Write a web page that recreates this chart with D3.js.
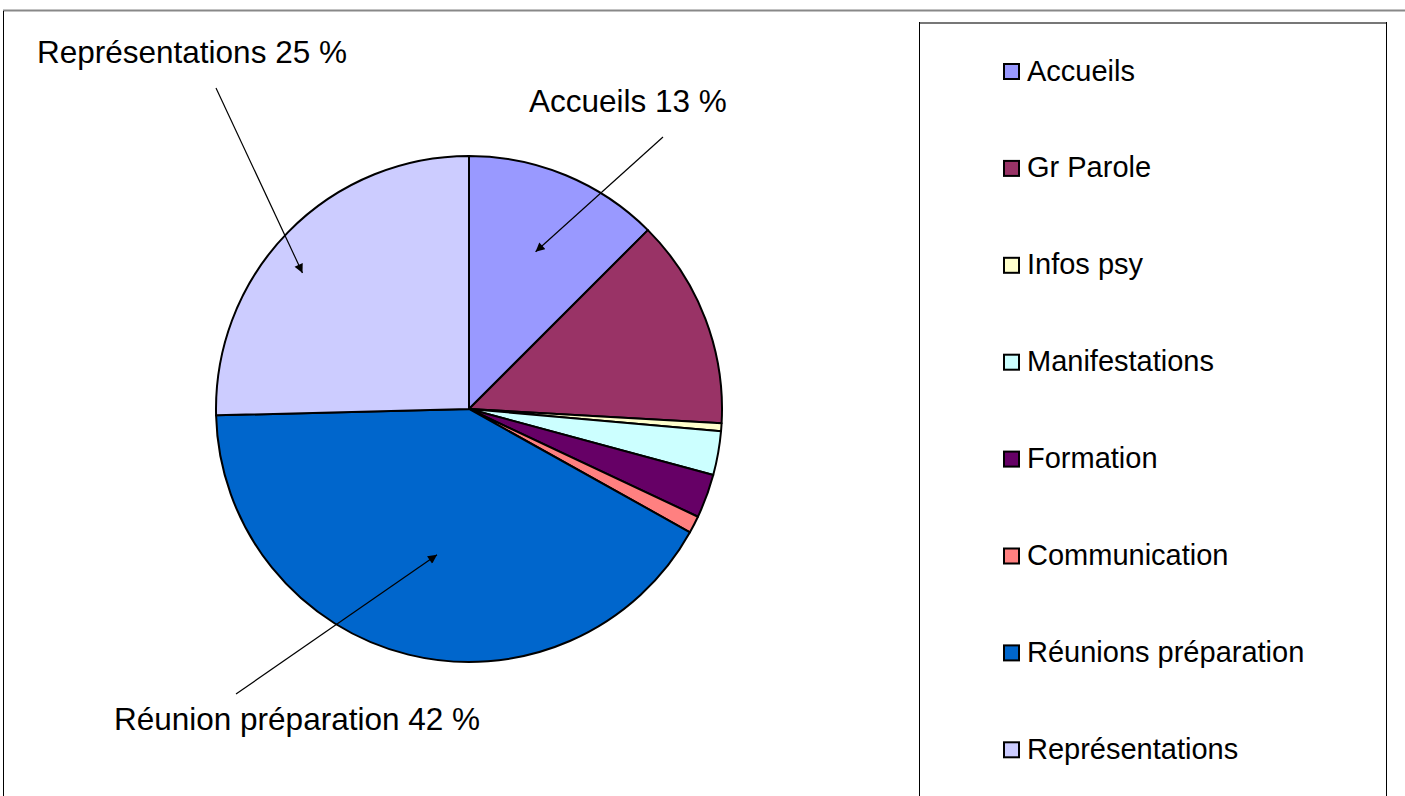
<!DOCTYPE html>
<html>
<head>
<meta charset="utf-8">
<script src="https://cdn.jsdelivr.net/npm/d3@7"></script>
<style>
  body { margin: 0; background: #fff; }
  text { font-family: "Liberation Sans", Arial, sans-serif; fill: #000; }
</style>
</head>
<body>
<svg width="1405" height="796"></svg>
<script>
// data (percent of activity)
var categories = ["Accueils", "Gr Parole", "Infos psy", "Manifestations", "Formation",
                  "Communication", "Réunions préparation", "Représentations"];
var values = [12.5, 13.4, 0.5, 2.8, 2.8, 1.1, 41.5, 25.4];
var colors = ["#9999FF", "#993366", "#FFFFCC", "#CCFFFF", "#660066",
              "#FF8080", "#0066CC", "#CCCCFF"];

// callout labels: which slice, text
var calloutIdx = [7, 0, 6];
var calloutText = ["Représentations 25 %", "Accueils 13 %", "Réunion préparation 42 %"];

var svg = d3.select("svg");
var width = +svg.attr("width");
var height = +svg.attr("height");

// frame
svg.append("line").attr("x1", 3).attr("y1", 10.5).attr("x2", width).attr("y2", 10.5)
    .style("stroke", "#888").style("stroke-width", 2);
svg.append("line").attr("x1", 3.5).attr("y1", 11).attr("x2", 3.5).attr("y2", height)
    .style("stroke", "#000").style("stroke-width", 1);

// legend box
svg.append("line").attr("x1", 919).attr("y1", 23).attr("x2", 1387).attr("y2", 23)
    .style("stroke", "#777").style("stroke-width", 2);
svg.append("line").attr("x1", 919.5).attr("y1", 22).attr("x2", 919.5).attr("y2", height)
    .style("stroke", "#000");
svg.append("line").attr("x1", 1386.5).attr("y1", 22).attr("x2", 1386.5).attr("y2", height)
    .style("stroke", "#000");

var cx = 469, cy = 409, radius = 253;

var pie = d3.pie().sort(null).value(function (d) { return d; });
var arcs = pie(values);
var arc = d3.arc().innerRadius(0).outerRadius(radius);

var g = svg.append("g").attr("transform", "translate(" + cx + "," + cy + ")");
g.selectAll("path.slice")
    .data(arcs)
    .enter().append("path")
    .attr("class", "slice")
    .attr("d", arc)
    .style("fill", function (d, i) { return colors[i]; })
    .style("stroke", "#000")
    .style("stroke-width", 2)
    .style("stroke-linejoin", "round");

// arrows
svg.append("defs").append("marker")
    .attr("id", "arrow")
    .attr("viewBox", "0 -5 10 10")
    .attr("refX", 10)
    .attr("refY", 0)
    .attr("markerWidth", 10)
    .attr("markerHeight", 9)
    .attr("markerUnits", "userSpaceOnUse")
    .attr("orient", "auto")
    .append("path")
    .attr("d", "M0,-5L10,0L0,5Z");

// where the arrow tip lands: fraction of radius, fraction across the slice
var tipRadius = [0.85, 0.675, 0.59];
var tipFrac = [0.445, 0.51, 0.49];
var lineStart = [[216, 88], [663, 137], [236, 694]];
var labelPos = [[37, 63], [529, 112], [114, 730]];

calloutIdx.forEach(function (si, k) {
    var a = arcs[si];
    var ang = a.startAngle + (a.endAngle - a.startAngle) * tipFrac[k];
    var r = radius * tipRadius[k];
    var tip = [Math.sin(ang) * r, -Math.cos(ang) * r];
    svg.append("line")
        .attr("x1", lineStart[k][0]).attr("y1", lineStart[k][1])
        .attr("x2", cx + tip[0]).attr("y2", cy + tip[1])
        .style("stroke", "#000").style("stroke-width", 1.2)
        .attr("marker-end", "url(#arrow)");
    svg.append("text")
        .attr("x", labelPos[k][0]).attr("y", labelPos[k][1])
        .style("font-size", "31.5px")
        .text(calloutText[k]);
});

// legend
var legend = svg.append("g").attr("class", "legend");
var item = legend.selectAll("g.item")
    .data(categories)
    .enter().append("g")
    .attr("class", "item")
    .attr("transform", function (d, i) { return "translate(1004," + (64 + i * 96.9) + ")"; });
item.append("rect")
    .attr("width", 15).attr("height", 15)
    .style("fill", function (d, i) { return colors[i]; })
    .style("stroke", "#000").style("stroke-width", 2);
item.append("text")
    .attr("x", 23).attr("y", 16.5)
    .style("font-size", "29px")
    .text(function (d) { return d; });
</script>
</body>
</html>
